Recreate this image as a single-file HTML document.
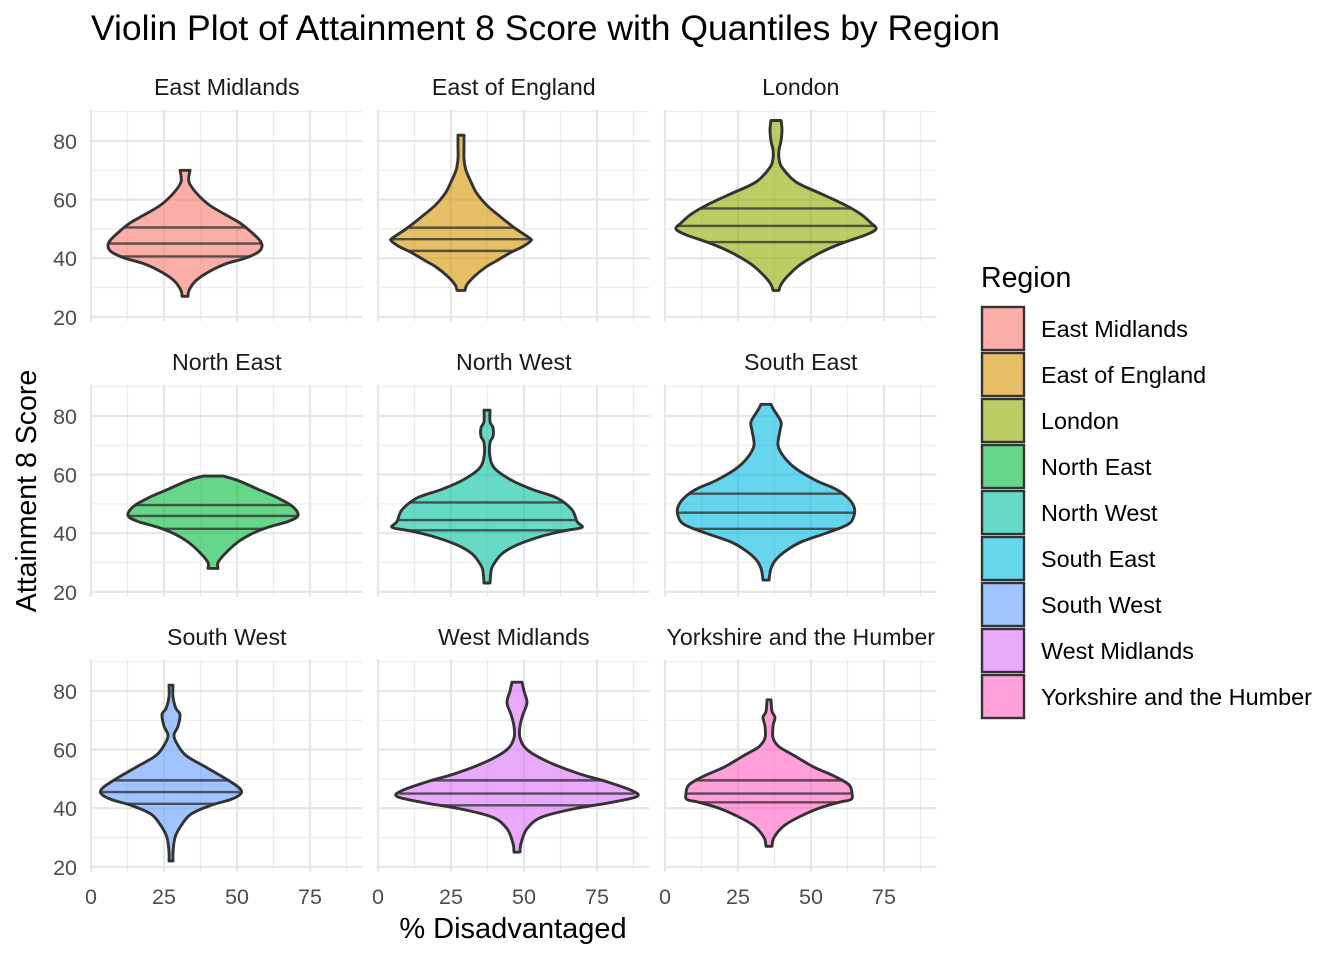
<!DOCTYPE html>
<html><head><meta charset="utf-8"><style>
body{margin:0;background:#fff;}
svg text{font-family:"Liberation Sans",sans-serif;}
</style></head><body>
<svg id="s" width="1344" height="960" xmlns="http://www.w3.org/2000/svg">
<rect width="1344" height="960" fill="#fff"/>
<text x="91" y="40" font-size="35.5" fill="#000">Violin Plot of Attainment 8 Score with Quantiles by Region</text>
<text x="513" y="938" font-size="29" text-anchor="middle" fill="#000">% Disadvantaged</text>
<text transform="translate(36,491) rotate(-90)" font-size="28.5" text-anchor="middle" fill="#000">Attainment 8 Score</text>
<g id="panels"></g>
<g id="legend"></g>
</svg>
<script>
const NS="http://www.w3.org/2000/svg";
const P=document.getElementById('panels');
function el(t,a,txt){const e=document.createElementNS(NS,t);for(const k in a)e.setAttribute(k,a[k]);if(txt!==undefined)e.textContent=txt;return e;}
const colX=[91,378,665], rowY80=[141,416,691];
const sx=2.92, sy=2.93;
const cols=["#F8766D","#D39200","#93AA00","#00BA38","#00C19F","#00B9E3","#619CFF","#DB72FB","#FF61C3"];
const names=["East Midlands","East of England","London","North East","North West","South East","South West","West Midlands","Yorkshire and the Humber"];
const V=[
 {c:185,p:[[70,5],[66,4],[62,12],[58,25],[54,45],[52,55],[49,66],[46,75],[44,77],[42,73],[40,60],[38,40],[35,22],[32,10],[29,4],[27,3]],q:[50.5,45,40.6]},
 {c:461,p:[[82,3],[78,3],[74,3],[70,5],[66,10],[62,16],[58,26],[54,40],[50,55],[47,68],[46,70],[44,62],[42,50],[39,35],[37,25],[34,14],[31,6],[29,4]],q:[50.4,46.5,42.5]},
 {c:776,p:[[87,5],[84,6],[80,5],[77,3],[74,3],[71,6],[66,20],[62,45],[58,70],[55,85],[52,95],[50,100],[48,90],[45,65],[42,45],[38,25],[34,12],[31,5],[29,3]],q:[57,51,45.5]},
 {c:213,p:[[59.5,10],[58,25],[55,45],[52,65],[49,80],[46,85],[44,75],[42,55],[40,40],[37,25],[33,12],[30,5],[28,5]],q:[49.6,45.9,41.5]},
 {c:487,p:[[82,3],[78,3],[76,6],[73,6],[71,3],[66,3],[62,8],[58,25],[55,45],[52,70],[48,85],[44,90],[42,95],[41,80],[39,55],[36,30],[33,15],[29,6],[27,4],[23,3]],q:[50.5,44.5,41]},
 {c:766,p:[[84,5],[82,8],[78,15],[75,14],[70,12],[66,18],[62,30],[58,50],[55,70],[52,82],[49,88],[46,88],[43,82],[40,60],[37,35],[34,20],[31,10],[28,5],[24,3]],q:[53.5,47,41.5]},
 {c:171,p:[[82,2],[78,2],[74,5],[72,9],[68,7],[65,3],[62,6],[58,15],[54,35],[50,55],[47,68],[45,70],[43,60],[41,40],[38,20],[34,10],[30,4],[25,2],[22,2]],q:[49.5,45.5,41.5]},
 {c:517,p:[[83,5],[80,7],[76,10],[72,6],[68,3],[64,3],[60,10],[56,30],[52,60],[49,90],[46,115],[44,120],[42,95],[40,60],[37,25],[33,10],[28,4],[25,3]],q:[49.5,45,41]},
 {c:769,p:[[77,2],[73,3],[71,6],[68,4],[64,4],[61,10],[58,25],[54,45],[51,65],[48,80],[45,83],[43,82],[42,70],[40,50],[37,30],[34,15],[30,5],[27,3]],q:[49.5,45,42]}
];
function cr(pts){let d="";for(let i=0;i<pts.length-1;i++){const p0=pts[Math.max(0,i-1)],p1=pts[i],p2=pts[i+1],p3=pts[Math.min(pts.length-1,i+2)];
 const c1=[p1[0]+(p2[0]-p0[0])/6,p1[1]+(p2[1]-p0[1])/6],c2=[p2[0]-(p3[0]-p1[0])/6,p2[1]-(p3[1]-p1[1])/6];
 d+=` C${c1[0].toFixed(1)},${c1[1].toFixed(1)} ${c2[0].toFixed(1)},${c2[1].toFixed(1)} ${p2[0].toFixed(1)},${p2[1].toFixed(1)}`;}return d;}
for(let i=0;i<9;i++){
 const r=Math.floor(i/3),c=i%3,x0=colX[c],y80=rowY80[r];
 const X=v=>x0+v*sx, Y=v=>y80+(80-v)*sy;
 const g=el('g',{});P.appendChild(g);
 const left=X(0),right=X(93),top=Y(90.8),bot=Y(18.3);
 for(let v=12.5;v<93;v+=25)g.appendChild(el('line',{x1:X(v),x2:X(v),y1:top,y2:bot,stroke:"#ececec","stroke-width":1.2}));
 for(let v=0;v<93;v+=25)g.appendChild(el('line',{x1:X(v),x2:X(v),y1:top,y2:bot,stroke:"#e6e6e6","stroke-width":2.2}));
 for(let v=30;v<=90;v+=20)g.appendChild(el('line',{x1:left,x2:right,y1:Y(v),y2:Y(v),stroke:"#ececec","stroke-width":1.2}));
 for(let v=20;v<=80;v+=20)g.appendChild(el('line',{x1:left,x2:right,y1:Y(v),y2:Y(v),stroke:"#e6e6e6","stroke-width":2.2}));
 g.appendChild(el('text',{x:(left+right)/2,y:y80-46,"font-size":23.2,"text-anchor":"middle",fill:"#1a1a1a"},names[i]));
 if(c==0)for(let v=20;v<=80;v+=20)g.appendChild(el('text',{x:77,y:Y(v)+8,"font-size":21.5,"text-anchor":"end",fill:"#4d4d4d"},v));
 if(r==2)for(let v=0;v<=75;v+=25)g.appendChild(el('text',{x:X(v),y:904,"font-size":21.5,"text-anchor":"middle",fill:"#4d4d4d"},v));
 const vd=V[i],cx=vd.c;
 const R=vd.p.map(p=>[cx+p[1],Y(p[0])]), L=vd.p.slice().reverse().map(p=>[cx-p[1],Y(p[0])]);
 let d=`M${cx-vd.p[0][1]},${Y(vd.p[0][0])} L${R[0][0]},${R[0][1]}`+cr(R)+` L${L[0][0]},${L[0][1]}`+cr(L)+"Z";
 g.appendChild(el('path',{d:d,fill:cols[i],"fill-opacity":0.6,stroke:"#333","stroke-width":2.9,"stroke-linejoin":"round"}));
 for(const q of vd.q){let w=0;for(let k=0;k<vd.p.length-1;k++){const a=vd.p[k],b=vd.p[k+1];if(q<=a[0]&&q>=b[0]){w=a[1]+(b[1]-a[1])*(a[0]-q)/(a[0]-b[0]);break;}}
  g.appendChild(el('line',{x1:cx-w,x2:cx+w,y1:Y(q),y2:Y(q),stroke:"#333","stroke-width":2.4,"stroke-opacity":0.8}));}
}
const Lg=document.getElementById('legend');
Lg.appendChild(el('text',{x:981,y:287,"font-size":28.5,fill:"#000"},"Region"));
for(let i=0;i<9;i++){const y=306+i*46;
 Lg.appendChild(el('rect',{x:982,y:y+1,width:42,height:43,fill:cols[i],"fill-opacity":0.6,stroke:"#333","stroke-width":2.4}));
 Lg.appendChild(el('text',{x:1041,y:y+31,"font-size":23.4,fill:"#000"},names[i]));}
</script>
</body></html>
